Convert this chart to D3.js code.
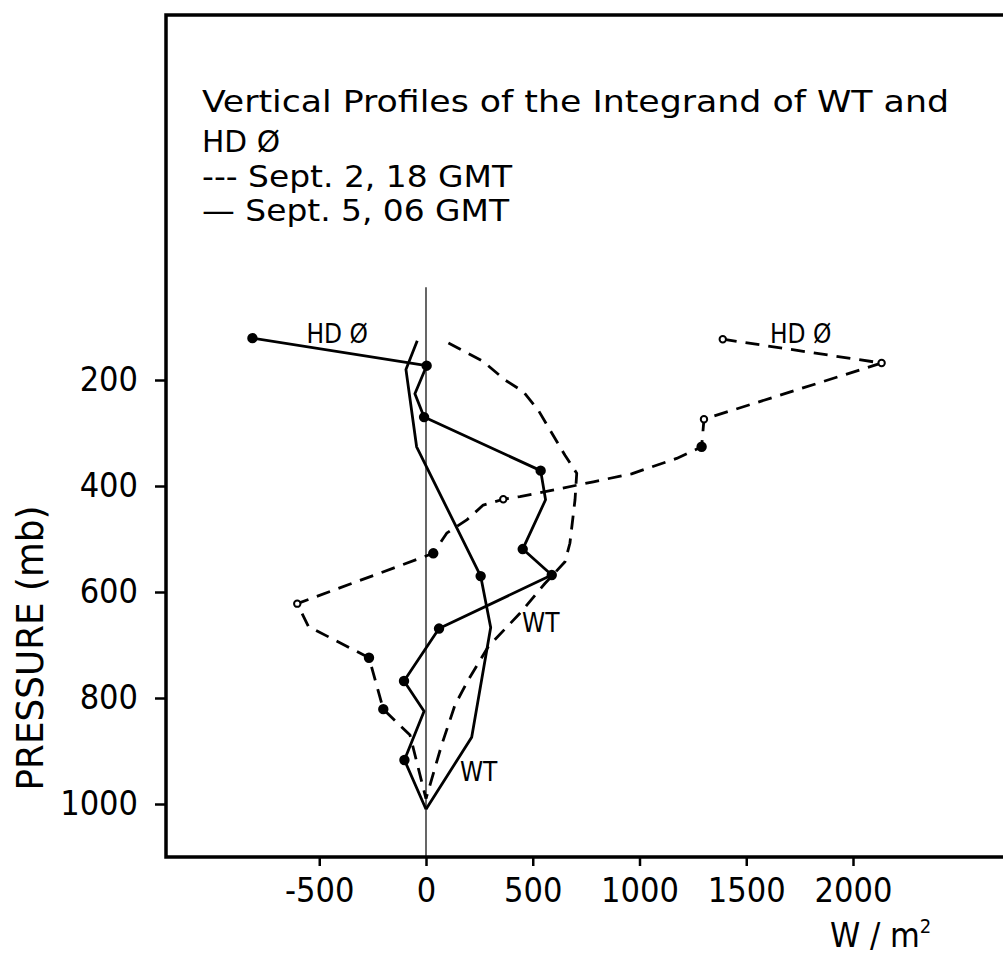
<!DOCTYPE html>
<html>
<head>
<meta charset="utf-8">
<script src="https://cdn.jsdelivr.net/npm/d3@7"></script>
<style>
  body { margin: 0; background: #fff; }
  text { font-family: "Liberation Sans Narrow", "DejaVu Sans Condensed", "Roboto Condensed", "Liberation Sans", sans-serif; fill: #000; }
</style>
</head>
<body>
<script>
// axis ticks
var xTicks = [-500, 0, 500, 1000, 1500, 2000];
var yTicks = [200, 400, 600, 800, 1000];

// Sept. 5, 06 GMT (solid lines) - pressure (mb) and value (W/m2)
var solidHdP = [121, 173, 226, 270, 371, 426, 519, 568, 669, 768, 825, 917, 1010];
var solidHdV = [-813, 3, -52, -9, 537, 560, 453, 589, 61, -103, -9, -101, 0];
var solidHdDot = [1, 1, 0, 1, 1, 0, 1, 1, 1, 1, 0, 1, 0];
var solidWtP = [126, 180, 326, 570, 667, 874, 1010];
var solidWtV = [-41, -94, -44, 256, 303, 214, 0];
var solidWtDot = [0, 0, 0, 1, 0, 0, 0];

// Sept. 2, 18 GMT (dashed lines)
var dashHdP = [123, 168, 274, 326, 348, 377, 392, 407, 420, 425, 436, 464, 489, 527, 622, 665, 724, 821, 870, 990];
var dashHdV = [1390, 2134, 1302, 1291, 1174, 963, 784, 604, 440, 362, 268, 191, 97, 34, -603, -551, -267, -200, -75, 0];
var dashHdDot = [2, 2, 2, 1, 0, 0, 0, 0, 0, 2, 0, 0, 0, 1, 2, 0, 1, 1, 0, 0];
var dashWtP = [130, 165, 200, 222, 257, 342, 376, 426, 508, 543, 584, 640, 703, 766, 813, 889, 990];
var dashWtV = [105, 268, 370, 456, 526, 651, 706, 698, 674, 651, 557, 440, 292, 198, 136, 73, 0];
var dashWtDot = [0, 0, 0, 0, 0, 0, 0, 0, 0, 0, 0, 0, 0, 0, 0, 0, 0];

// curve labels
var labelText = ["HD \u00D8", "HD \u00D8", "WT", "WT"];
var labelV = [-560, 1611, 450, 159];
var labelP = [130, 130, 675, 957];

var titleLines = ["Vertical Profiles of the Integrand of WT and", "HD \u00D8", "--- Sept. 2, 18 GMT", "\u2014 Sept. 5, 06 GMT"];

var width = 1003, height = 958;

// scales fitted to the printed ticks
var x = d3.scaleLinear().domain([0, 2000]).range([426, 853]);
var y = d3.scaleLinear().domain([200, 1000]).range([380, 804]);

var frameLeft = 166, frameTop = 15, frameBottom = y(1100);
var zeroTop = 25;

var svg = d3.select("body").append("svg")
    .attr("width", width)
    .attr("height", height);

// frame (right side runs off the page)
svg.append("path")
    .attr("d", `M${width},${frameTop} H${frameLeft} V${frameBottom} H${width}`)
    .attr("fill", "none")
    .attr("stroke", "#000")
    .attr("stroke-width", 3.5);

// zero line
svg.append("line")
    .attr("x1", x(0)).attr("x2", x(0))
    .attr("y1", y(zeroTop)).attr("y2", frameBottom)
    .attr("stroke", "#000")
    .attr("stroke-width", 1.2);

// axes
var xAxis = svg.append("g")
    .attr("transform", `translate(0,${frameBottom})`)
    .call(d3.axisBottom(x).tickValues(xTicks).tickSize(9).tickPadding(12).tickFormat(d3.format("d")));
var yAxis = svg.append("g")
    .attr("transform", `translate(${frameLeft},0)`)
    .call(d3.axisLeft(y).tickValues(yTicks).tickSize(11).tickPadding(17).tickFormat(d3.format("d")));
[xAxis, yAxis].forEach(function (a) {
    a.select(".domain").remove();
    a.selectAll("line").attr("stroke", "#000").attr("stroke-width", 2.5);
    a.selectAll("text").attr("font-size", 34).attr("fill", "#000")
        .attr("font-family", "\"Liberation Sans Narrow\", \"DejaVu Sans Condensed\", \"Liberation Sans\", sans-serif");
});
xAxis.selectAll("text").text(d => d < 0 ? "-" + Math.abs(d) : d);

// curves
var line = d3.line()
    .x(d => x(d[0]))
    .y(d => y(d[1]));

function series(vals, pres, dots) {
    return vals.map((v, i) => [v, pres[i], dots[i]]);
}

var curves = [
    { pts: series(solidHdV, solidHdP, solidHdDot), dash: null },
    { pts: series(solidWtV, solidWtP, solidWtDot), dash: null },
    { pts: series(dashHdV, dashHdP, dashHdDot), dash: "14,9" },
    { pts: series(dashWtV, dashWtP, dashWtDot), dash: "14,9" }
];

curves.forEach(function (c) {
    svg.append("path")
        .datum(c.pts)
        .attr("d", line)
        .attr("fill", "none")
        .attr("stroke", "#000")
        .attr("stroke-width", 2.8)
        .attr("stroke-linejoin", "round")
        .attr("stroke-dasharray", c.dash);

    svg.append("g")
        .selectAll("circle")
        .data(c.pts.filter(d => d[2] > 0))
        .join("circle")
          .attr("cx", d => x(d[0]))
          .attr("cy", d => y(d[1]))
          .attr("r", d => d[2] == 1 ? 4.2 : 3.2)
          .attr("fill", d => d[2] == 1 ? "#000" : "#fff")
          .attr("stroke", "#000")
          .attr("stroke-width", 2);
});

// curve labels
svg.append("g")
    .selectAll("text")
    .data(labelText)
    .join("text")
      .attr("x", (d, i) => x(labelV[i]))
      .attr("y", (d, i) => y(labelP[i]))
      .attr("font-size", 26)
      .text(d => d);

// title block
var titleY = [112, 152, 187, 221];
var titleLen = [747, 78, 310, 307];
svg.append("g")
    .selectAll("text")
    .data(titleLines)
    .join("text")
      .attr("x", 202)
      .attr("y", (d, i) => titleY[i])
      .attr("font-size", 30)
      .attr("textLength", (d, i) => titleLen[i])
      .attr("lengthAdjust", "spacingAndGlyphs")
      .text(d => d);

// axis titles
svg.append("text")
    .attr("transform", `translate(43,648) rotate(-90)`)
    .attr("text-anchor", "middle")
    .attr("font-size", 38)
    .attr("textLength", 285)
    .attr("lengthAdjust", "spacingAndGlyphs")
    .text("PRESSURE (mb)");

var unit = svg.append("text")
    .attr("x", 830)
    .attr("y", 947)
    .attr("font-size", 34);
unit.append("tspan").text("W / m");
unit.append("tspan").attr("font-size", 20).attr("dy", -14).text("2");
</script>
</body>
</html>
